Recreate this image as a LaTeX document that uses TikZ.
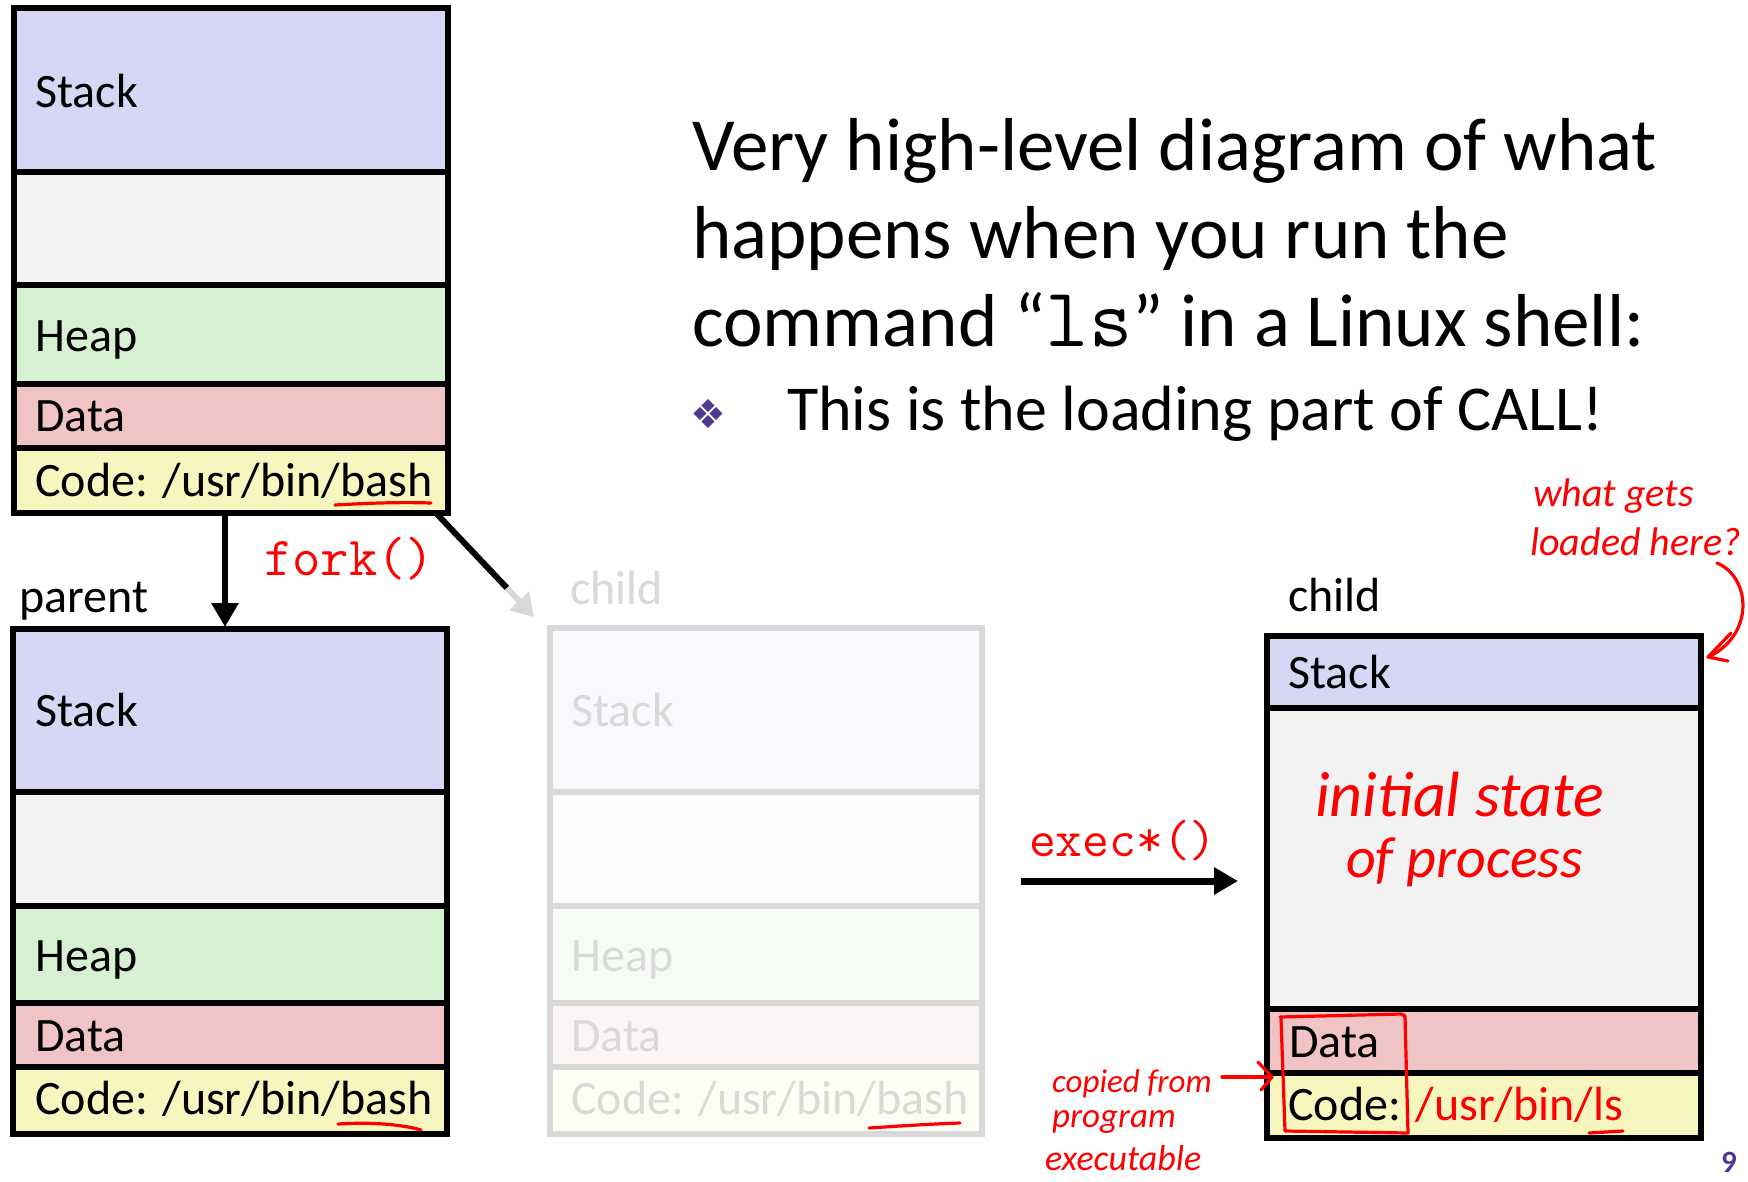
\documentclass[tikz,border=0pt]{standalone}
\usepackage{fontspec}
\setmainfont{Carlito}
\newfontfamily\dingfont{DejaVu Sans}
\usetikzlibrary{arrows.meta}
\definecolor{stackc}{RGB}{214,215,244}
\definecolor{emptyc}{RGB}{242,242,242}
\definecolor{heapc}{RGB}{214,241,209}
\definecolor{datac}{RGB}{240,196,196}
\definecolor{codec}{RGB}{246,246,190}
\definecolor{gstack}{RGB}{248,248,253}
\definecolor{gempty}{RGB}{253,253,253}
\definecolor{gheap}{RGB}{246,251,245}
\definecolor{gdata}{RGB}{252,245,245}
\definecolor{gcode}{RGB}{253,253,244}
\definecolor{ghostc}{RGB}{217,217,217}
\definecolor{inkred}{RGB}{255,0,0}
\definecolor{uwpurple}{RGB}{80,58,145}
\newcommand{\memband}[6]{\node[bandnode, fill=#6, minimum width={#4-#2}, minimum height={#5-#3}] (#1) at (#2,#3) {};}
\tikzset{
  bandnode/.style={rectangle, draw=none, inner sep=0pt, outer sep=0pt, anchor=north west},
  memborder/.style={line width=5.5pt, draw=black, line join=miter},
  ghostborder/.style={line width=5.5pt, draw=ghostc, line join=miter},
  memtxt/.style={anchor=base west, inner sep=0pt, font=\fontsize{48}{58}\selectfont},
  lbltxt/.style={anchor=base west, inner sep=0pt, font=\fontsize{48}{58}\selectfont},
  codetxt/.style={anchor=base west, inner sep=0pt, text=inkred, font=\ttfamily\fontsize{55}{64}\selectfont},
  titletxt/.style={anchor=base west, inner sep=0pt, font=\fontsize{75}{90}\selectfont},
  bullettxt/.style={anchor=base west, inner sep=0pt, font=\fontsize{64}{78}\selectfont},
  hand/.style={anchor=base west, inner sep=0pt, text=inkred, font=\itshape},
  ink/.style={draw=inkred, line width=3.2pt, line cap=round, line join=round},
  bigarrow/.style={line width=6pt, -{Triangle[length=24pt,width=26pt]}},
}
\begin{document}
\begin{tikzpicture}[x=1pt, y=-1pt]
\path[use as bounding box, fill=white] (0,0) rectangle (1748,1181);

% ---------- top (original) process ----------
\memband{p0s}{14}{8}{448}{172}{stackc}
\memband{p0e}{14}{172}{448}{285}{emptyc}
\memband{p0h}{14}{285}{448}{384}{heapc}
\memband{p0d}{14}{384}{448}{448}{datac}
\memband{p0c}{14}{448}{448}{513}{codec}
\draw[memborder] (p0s.north west) rectangle (p0c.south east);
\foreach \b in {p0s,p0e,p0h,p0d}{\draw[memborder] (\b.south west) -- (\b.south east);}
\node[memtxt] (p0st) at (35,107) {Stack};
\node[memtxt] (p0ht) at (35,351) {Heap};
\node[memtxt] (p0dt) at (35,431) {Data};
\node[memtxt] (p0ct) at (35,496) {Code: /usr/bin/bash};

% ---------- parent ----------
\memband{p1s}{13}{629}{447}{792}{stackc}
\memband{p1e}{13}{792}{447}{906}{emptyc}
\memband{p1h}{13}{906}{447}{1003}{heapc}
\memband{p1d}{13}{1003}{447}{1067}{datac}
\memband{p1c}{13}{1067}{447}{1134}{codec}
\draw[memborder] (p1s.north west) rectangle (p1c.south east);
\foreach \b in {p1s,p1e,p1h,p1d}{\draw[memborder] (\b.south west) -- (\b.south east);}
\node[memtxt] (p1st) at (35,726) {Stack};
\node[memtxt] (p1ht) at (35,971) {Heap};
\node[memtxt] (p1dt) at (35,1051) {Data};
\node[memtxt] (p1ct) at (35,1114) {Code: /usr/bin/bash};
\node[lbltxt] (parentlbl) at (19,612) {parent};

% ---------- ghost child ----------
\memband{gs}{550}{628}{982}{792}{gstack}
\memband{ge}{550}{792}{982}{906}{gempty}
\memband{gh}{550}{906}{982}{1003}{gheap}
\memband{gd}{550}{1003}{982}{1067}{gdata}
\memband{gc}{550}{1067}{982}{1134}{gcode}
\draw[ghostborder] (gs.north west) rectangle (gc.south east);
\foreach \b in {gs,ge,gh,gd}{\draw[ghostborder] (\b.south west) -- (\b.south east);}
\node[memtxt, text=ghostc] (gst) at (571,726) {Stack};
\node[memtxt, text=ghostc] (ght) at (571,971) {Heap};
\node[memtxt, text=ghostc] (gdt) at (571,1051) {Data};
\node[memtxt, text=ghostc] (gct) at (571,1114) {Code: /usr/bin/bash};
\node[lbltxt, text=ghostc] (ghostlbl) at (570,604) {child};

% ---------- new child ----------
\memband{cs}{1267}{636}{1701}{708}{stackc}
\memband{ce}{1267}{708}{1701}{1009}{emptyc}
\memband{cd}{1267}{1009}{1701}{1073}{datac}
\memband{cc}{1267}{1073}{1701}{1138}{codec}
\draw[memborder] (cs.north west) rectangle (cc.south east);
\foreach \b in {cs,ce,cd}{\draw[memborder] (\b.south west) -- (\b.south east);}
\node[memtxt] (cst) at (1288,688) {Stack};
\node[memtxt] (cdt) at (1289,1057) {Data};
\node[memtxt] (cct) at (1288,1120) {Code: \textcolor{inkred}{/usr/bin/ls}};
\node[lbltxt] (childlbl) at (1288,611) {child};

% ---------- arrows ----------
\coordinate (forkS) at (225,513);
\coordinate (forkE) at (225,627);
\draw[bigarrow] (forkS) -- (forkE);
\coordinate (diagS) at (436,513);
\coordinate (diagM) at (507,588);
\coordinate (diagE) at (534,617);
\draw[line width=6pt] (diagS) -- (diagM);
\draw[line width=6pt, draw=ghostc, fill=ghostc, -{Triangle[length=22pt,width=26pt]}] (diagM) -- (diagE);
\node[codetxt] (forklbl) at (264,575) {fork()};

\coordinate (execS) at (1021,881);
\coordinate (execE) at (1238,881);
\draw[line width=7pt, -{Triangle[length=24pt,width=26pt]}] (execS) -- (execE);
\node[codetxt, font=\ttfamily\fontsize{52}{60}\selectfont] (execlbl) at (1029,856) {exec*()};

% ---------- title ----------
\node[titletxt] (t1) at (692,170) {Very high-level diagram of what};
\node[titletxt] (t2) at (692,258) {happens when you run the};
\node[titletxt] (t3) at (692,346) {command “{\ttfamily\fontsize{84}{90}\selectfont ls}” in a Linux shell:};
\node[anchor=center, inner sep=0pt, text=uwpurple, font=\dingfont\fontsize{40}{44}\selectfont] (bul) at (708,414) {❖};
\node[bullettxt] (t4) at (787,430) {This is the loading part of CALL!};
\node[anchor=base east, inner sep=0pt, text=uwpurple, font=\bfseries\fontsize{31}{36}\selectfont] (pnum) at (1737,1172) {9};

% ---------- handwritten annotations ----------
\draw[ink] (335,505) .. controls (370,503) and (400,502) .. (431,503);
\draw[ink] (338,1124) .. controls (370,1122) and (400,1124) .. (421,1130);
\draw[ink] (869,1128) .. controls (900,1126) and (930,1124) .. (960,1123);
\draw[ink] (1589,1133) -- (1623,1131);

\node[hand, font=\itshape\fontsize{40}{48}\selectfont] (hw1) at (1533,506) {what gets};
\node[hand, font=\itshape\fontsize{40}{48}\selectfont] (hw2) at (1530,555) {loaded here?};
\coordinate (qS) at (1717,563);
\coordinate (qE) at (1708,657);
\draw[ink] (qS) .. controls (1752,578) and (1754,636) .. (qE);
\draw[ink] (1731,633) -- (qE) -- (1728,661);

\node[hand, font=\itshape\fontsize{64}{72}\selectfont] (hw3) at (1315,816) {initial state};
\node[hand, font=\itshape\fontsize{58}{66}\selectfont] (hw4) at (1346,877) {of process};

\node[hand, font=\itshape\fontsize{33}{38}\selectfont] (hw5) at (1052,1092) {copied from};
\node[hand, font=\itshape\fontsize{35}{40}\selectfont] (hw6) at (1052,1127) {program};
\node[hand, font=\itshape\fontsize{36}{40}\selectfont] (hw7) at (1045,1170) {executable};
\coordinate (cpS) at (1222,1077);
\coordinate (cpE) at (1272,1077);
\draw[ink] (cpS) -- (cpE);
\draw[ink] (1258,1062) -- (cpE) -- (1261,1090);
\draw[ink] (1280,1017) -- (1401,1014) -- (1405,1016) -- (1408,1133) -- (1285,1131) -- (1281,1019);
\end{tikzpicture}
\end{document}
